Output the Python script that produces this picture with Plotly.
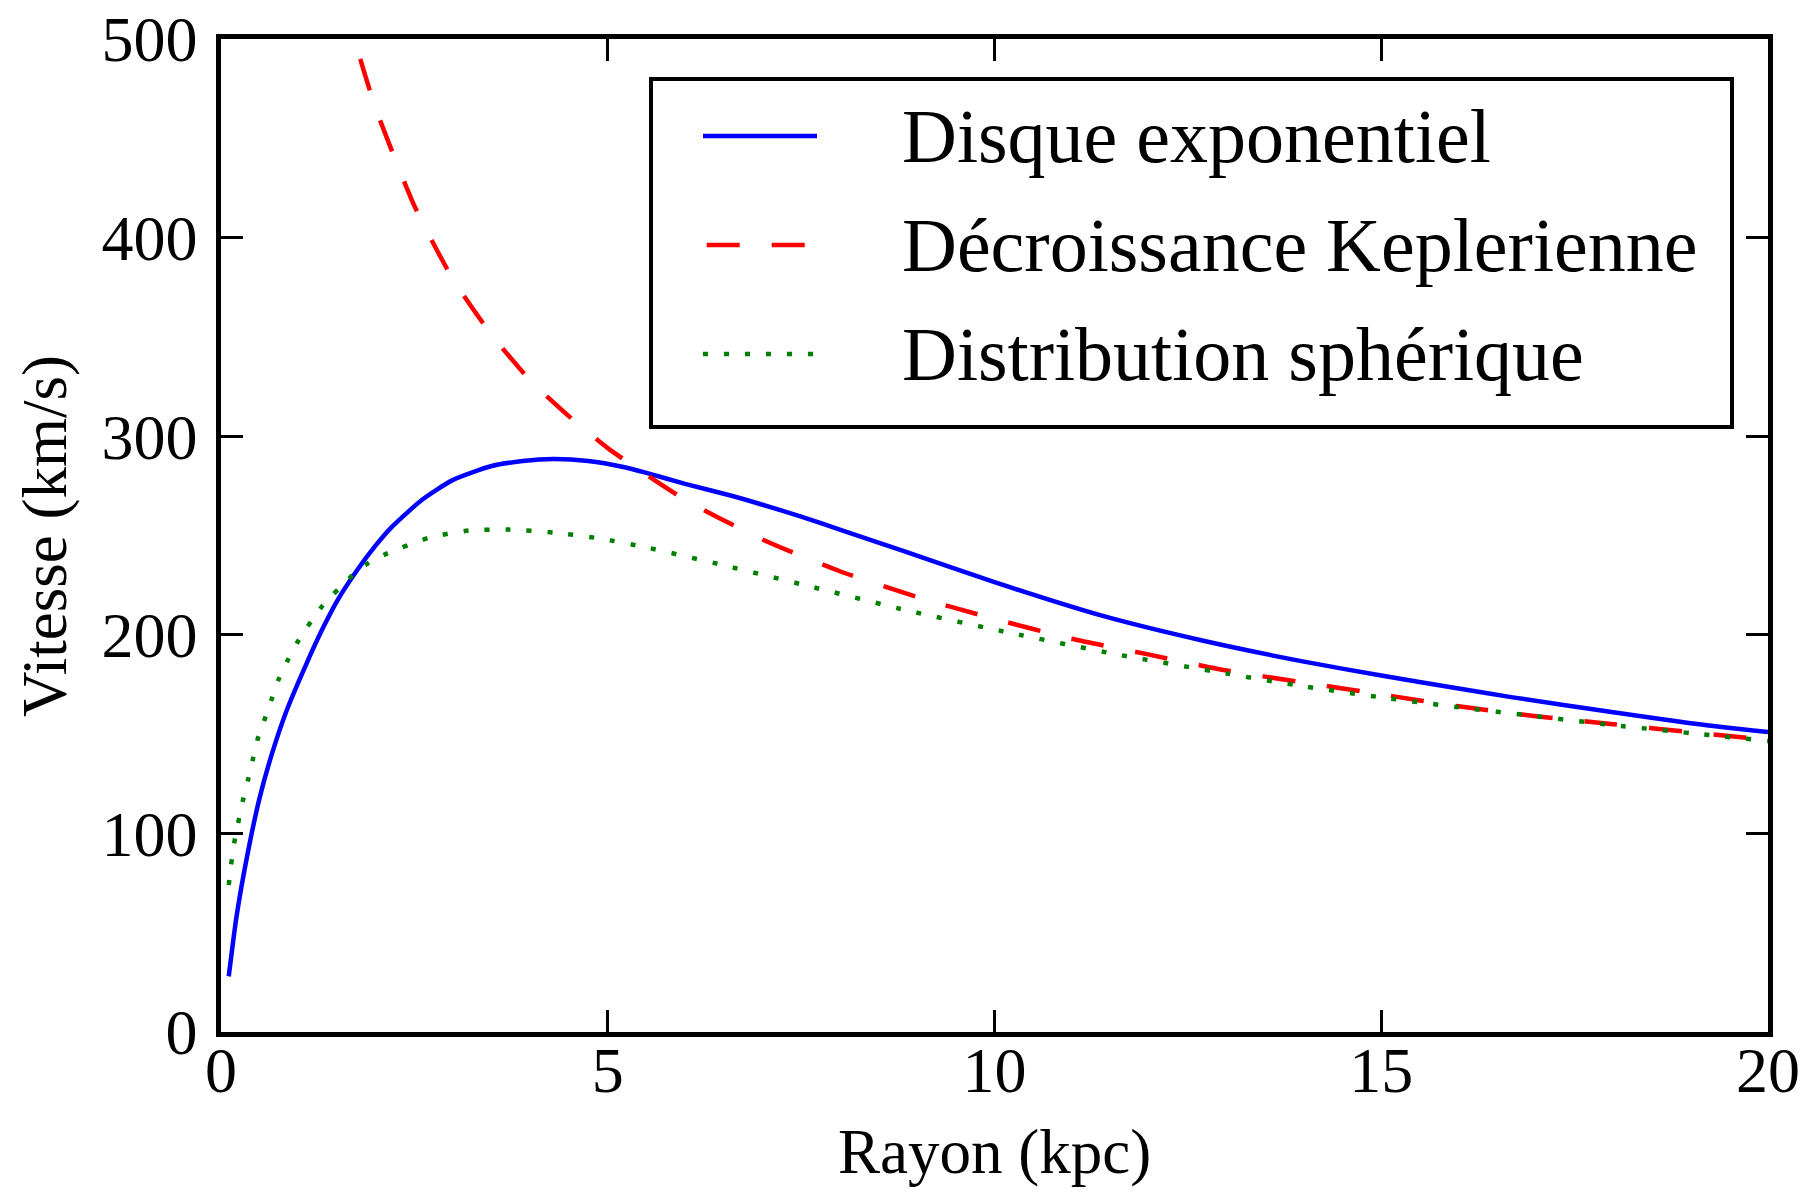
import plotly.graph_objects as go

# Disque exponentiel
r_disk = [0.1, 0.2, 0.35, 0.5, 0.65, 0.85, 1.1, 1.3, 1.5, 1.75, 2.0, 2.2, 2.6, 3.0,
          3.5, 3.9, 4.3, 4.75, 5.2, 5.5, 6.0, 6.6, 7.0, 7.5, 8.0, 8.8, 10.0, 11.4, 12.7, 14.0,
          15.0, 16.0, 16.7, 18.0, 19.0, 20.0]
v_disk = [28, 58, 91, 118, 139, 162, 185, 202, 217, 232, 245, 254, 268, 278,
          285, 287.5, 288.5, 287.5, 284.5, 281.5, 276, 270, 265.5, 259.5, 253, 242.5, 226.5, 209.5, 197, 186.5,
          179.5, 173, 168.5, 161, 155.5, 151]

# Décroissance Keplerienne
r_kep = [1.8, 2.0, 2.5, 3.0, 3.5, 4.0, 4.5, 5.0, 6.0, 7.0, 8.0, 9.0, 10.0, 11.0,
         12.0, 13.0, 14.0, 15.0, 16.0, 17.0, 18.0, 19.0, 20.0]
v_kep = [490, 465, 416, 379, 351, 328, 310, 294, 268, 248, 232, 219, 208, 198,
         190, 182, 176, 170, 164, 159, 155, 151, 147]

# Distribution sphérique
r_sph = [0.1, 0.13, 0.17, 0.22, 0.28, 0.35, 0.41, 0.47, 0.56, 0.65, 0.75, 0.86, 1.0,
         1.3, 1.7, 1.9, 2.15, 2.7, 3.2, 3.7, 4.3, 4.9, 5.5, 6.5, 7.6, 8.9, 10.2, 11.6,
         13.0, 14.0, 15.0, 16.0, 17.0, 18.0, 19.0, 20.0]
v_sph = [74, 84, 95, 105, 116, 127, 137, 147, 157, 167, 178, 187, 197,
         214, 230, 236, 241, 249, 252.5, 253, 251.5, 248.5, 244, 235, 224.5, 212, 201, 190,
         180.5, 174, 168.5, 163.5, 159, 154.5, 150.5, 146.5]

x_ticks = [0, 5, 10, 15, 20]
y_ticks = [0, 100, 200, 300, 400, 500]

names = ["Disque exponentiel", "Décroissance Keplerienne", "Distribution sphérique"]
x_title = "Rayon (kpc)"
y_title = "Vitesse (km/s)"
colors = ["#0000ff", "#ff0000", "#008000"]
dashes = ["solid", "33px,32px", "5px,16px"]

FONT = "Liberation Serif, Times New Roman, serif"
LW = 4.5

fig = go.Figure()
for rr, vv, nm, c, d in zip([r_disk, r_kep, r_sph], [v_disk, v_kep, v_sph], names, colors, dashes):
    fig.add_trace(go.Scatter(x=rr, y=vv, mode="lines", name=nm, showlegend=False,
                             line=dict(color=c, width=LW, dash=d, shape="spline", smoothing=0.6)))

axis_common = dict(showline=True, linecolor="black", linewidth=4.5, mirror="ticks",
                   ticks="inside", ticklen=22, tickwidth=2.5, tickcolor="black",
                   showgrid=False, zeroline=False, automargin=False,
                   tickfont=dict(family=FONT, size=64, color="black"))

fig.update_xaxes(range=[0, 20], tickvals=x_ticks, ticktext=[str(t) for t in x_ticks],
                 ticklabelstandoff=-22, **axis_common)
fig.update_yaxes(range=[0, 500], tickvals=y_ticks, ticktext=[str(t) for t in y_ticks],
                 ticklabelstandoff=6, ticklabeloverflow="allow",
                 **axis_common)

# plot area in page pixels: x 221..1768, y 39..1032 (page body has an 8px offset)
PX0, PX1, PY0, PY1 = 221, 1768, 39, 1032
def px(x):
    return (x - PX0) / (PX1 - PX0)
def py(y):
    return (PY1 - y) / (PY1 - PY0)

shapes = [dict(type="rect", xref="paper", yref="paper", x0=px(651), x1=px(1732), y0=py(427), y1=py(79),
               line=dict(color="black", width=4), fillcolor="white", layer="above")]
row_y = [136, 245, 354]
annotations = []
for yy, nm, c, d in zip(row_y, names, colors, dashes):
    x0 = 706.7 if d == "33px,32px" else 703
    shapes.append(dict(type="line", xref="paper", yref="paper", x0=px(x0), x1=px(817),
                       y0=py(yy), y1=py(yy), line=dict(color=c, width=LW, dash=d), layer="above"))
    annotations.append(dict(xref="paper", yref="paper", x=px(900), y=py(yy),
                            xanchor="left", yanchor="middle", showarrow=False, text=nm,
                            font=dict(family=FONT, size=76, color="black")))

annotations.append(dict(xref="paper", yref="paper", x=px(994), y=py(1152),
                        xanchor="center", yanchor="middle", showarrow=False, text=x_title,
                        font=dict(family=FONT, size=63, color="black")))
annotations.append(dict(xref="paper", yref="paper", x=px(45), y=py(536), textangle=-90,
                        xanchor="center", yanchor="middle", showarrow=False, text=y_title,
                        font=dict(family=FONT, size=63, color="black")))

fig.update_layout(
    width=1814, height=1193,
    margin=dict(l=PX0 - 8, r=1814 + 8 - PX1, t=PY0 - 8, b=1193 + 8 - PY1),
    paper_bgcolor="white", plot_bgcolor="white",
    font=dict(family=FONT, color="black"),
    shapes=shapes, annotations=annotations,
    showlegend=False,
)

fig.write_html("out.html")
